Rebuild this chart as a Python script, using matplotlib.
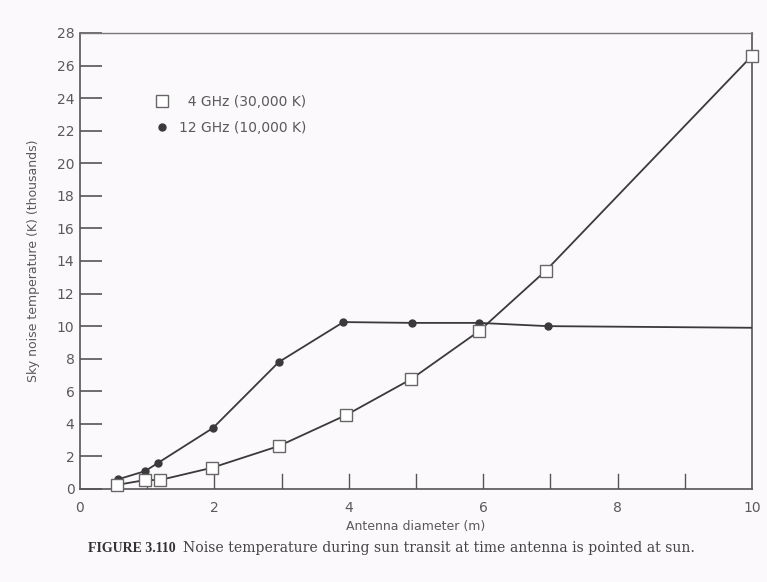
import matplotlib
matplotlib.use("Agg")
import matplotlib.pyplot as plt
from matplotlib.lines import Line2D

# Data (thousands of K vs antenna diameter in m)
d_4ghz = [0.55, 0.97, 1.19, 1.96, 2.96, 3.96, 4.93, 5.94, 6.93, 10.0]
t_4ghz = [0.25, 0.55, 0.55, 1.3, 2.64, 4.54, 6.75, 9.7, 13.4, 26.6]

d_12ghz = [0.57, 0.97, 1.16, 1.98, 2.96, 3.92, 4.94, 5.94, 6.96, 10.0]
t_12ghz = [0.6, 1.1, 1.6, 3.75, 7.8, 10.25, 10.2, 10.2, 10.0, 9.9]

x_ticks = [0, 2, 4, 6, 8, 10]
y_ticks = list(range(0, 29, 2))
labels = ["4 GHz (30,000 K)", "12 GHz (10,000 K)"]

bg = "#fcf9fc"
ink = "#3a3a3a"
txt = "#5a5a5a"

fig = plt.figure(figsize=(7.67, 5.82), dpi=100, facecolor=bg)
ax = fig.add_axes([80/767, 1-489/582, (752-80)/767, (489-33)/582])
ax.set_facecolor(bg)

ax.plot(d_12ghz, t_12ghz, color=ink, lw=1.3, marker="o", ms=5,
        mfc=ink, mec=ink, markevery=list(range(len(d_12ghz) - 1)), zorder=3)
ax.plot(d_4ghz, t_4ghz, color=ink, lw=1.3, marker="s", ms=8,
        mfc="white", mec="#666666", mew=1.0, zorder=4, clip_on=False)

ax.set_xlim(0, 10)
ax.set_ylim(0, 28)
ax.set_xticks(x_ticks)
ax.set_yticks(y_ticks)
ax.tick_params(axis="x", which="both", direction="in", length=0, labelsize=10,
               labelcolor=txt, pad=9)
ax.tick_params(axis="y", which="both", direction="in", length=16, width=1.2,
               color="#555555", labelsize=10, labelcolor=txt, pad=4)
# x ticks: inward at 1..9
for xv in range(1, 10):
    ax.plot([xv, xv], [0, 0.9], color="#555555", lw=1.0, zorder=2)

for s in ax.spines.values():
    s.set_color("#555555")
    s.set_linewidth(1.2)
ax.spines["top"].set_linewidth(1.0)
ax.spines["top"].set_color("#777777")

ax.set_xlabel("Antenna diameter (m)", fontsize=9, color=txt, labelpad=3)
ax.set_ylabel("Sky noise temperature (K) (thousands)", fontsize=9, color=txt, labelpad=12)

handles = [
    Line2D([], [], ls="none", marker="s", ms=8, mfc="white", mec="#666666"),
    Line2D([], [], ls="none", marker="o", ms=5, mfc=ink, mec=ink),
]
leg = ax.legend(handles, ["  " + labels[0], labels[1]], loc="upper left",
                bbox_to_anchor=(0.093, 0.892), frameon=False, fontsize=10,
                handletextpad=0.75, labelspacing=0.85, handlelength=1.0)
for t in leg.get_texts():
    t.set_color(txt)

t1 = fig.text(88/767, 1-548/582, "FIGURE 3.110", fontsize=10,
              family="Liberation Serif", weight="bold", color="#333333",
              va="center", ha="left")
ax.annotate("Noise temperature during sun transit at time antenna is pointed at sun.",
            xy=(1, 0.5), xycoords=t1, xytext=(5, 0), textcoords="offset points",
            fontsize=10.1, family="DejaVu Serif", color="#444444",
            va="center", ha="left", annotation_clip=False)

fig.savefig("out.png", dpi=100, facecolor=bg)
